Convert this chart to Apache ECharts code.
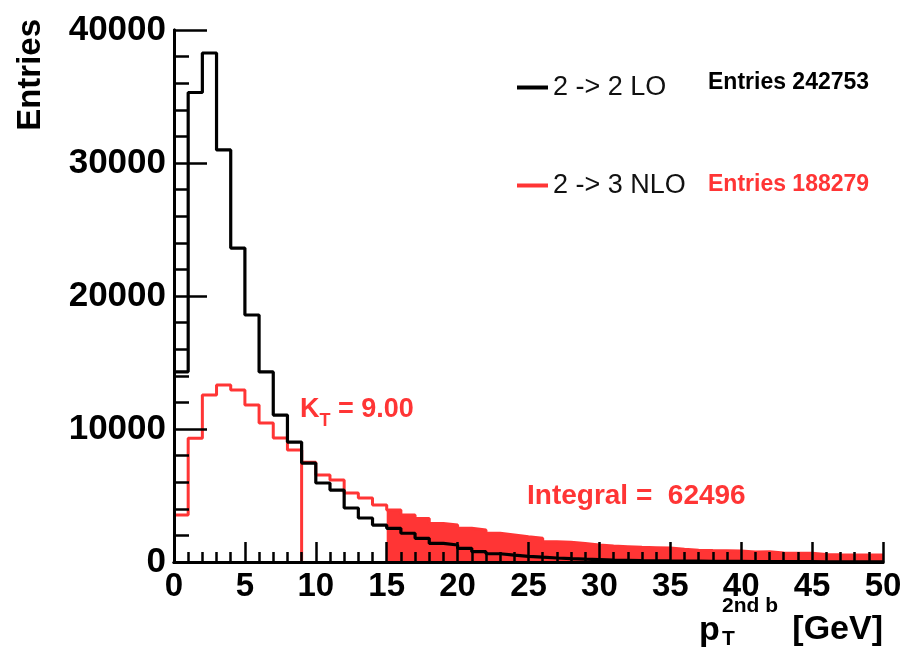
<!DOCTYPE html>
<html>
<head>
<meta charset="utf-8">
<script src="https://cdn.jsdelivr.net/npm/echarts@6/dist/echarts.min.js"></script>
<style>
  html, body { margin: 0; padding: 0; background: #fff; }
  #chart { width: 916px; height: 652px; }
</style>
</head>
<body>
<div id="chart"></div>
<script>
// bin contents, 1 GeV bins from 0 to 50
const loCounts = [
  14300, 35300, 38270, 30980, 23600, 18570, 14290, 11050, 9020, 7440,
  5940, 5410, 4060, 3310, 2780, 2530, 2160, 1780, 1400, 1280,
  1030, 780, 620, 520, 430, 360, 300, 250, 210, 180,
  150, 130, 110, 95, 80, 70, 60, 50, 45, 40,
  35, 30, 28, 25, 22, 20, 18, 16, 14, 12
]
const nloCounts = [
  3530, 9300, 12560, 13310, 12930, 11800, 10450, 9320, 8420, 7500,
  6540, 6170, 5190, 4810, 4290, 3910, 3530, 3280, 2900, 2780,
  2530, 2410, 2160, 2030, 1900, 1780, 1530, 1480, 1400, 1280,
  1200, 1150, 1100, 1080, 1050, 950, 880, 860, 850, 830,
  760, 780, 680, 660, 650, 560, 540, 530, 520, 520
]
const xTicks = [0, 5, 10, 15, 20, 25, 30, 35, 40, 45, 50]
const yTicks = [0, 10000, 20000, 30000, 40000]
const kT = 9
const integralFrom = 15

const RED = "#ff3535"
const FONT = "Liberation Sans"

// histogram -> step points (lower edge, content) + closing point
const toSteps = (counts, start) => {
  const pts = []
  for (let i = start; i < counts.length; i++) pts.push([i, counts[i]])
  pts.push([counts.length, counts[counts.length - 1]])
  return pts
}

const chart = echarts.init(document.getElementById("chart"))

const frameAxis = {
  show: true,
  lineStyle: { color: "#000", width: 3 },
}

const option = {
  animation: false,
  grid: { left: 174, right: 33, top: 30, bottom: 90 },
  legend: {
    data: ["2 -> 2 LO", "2 -> 3 NLO"],
    orient: "vertical",
    left: 512,
    top: 69,
    itemGap: 71,
    itemWidth: 31,
    itemHeight: 4,
    icon: "rect",
    textStyle: { fontFamily: FONT, fontSize: 27, color: "#111" },
  },
  xAxis: [
    {
      type: "value",
      min: xTicks[0],
      max: xTicks[xTicks.length - 1],
      interval: 5,
      z: 10,
      axisLine: frameAxis,
      axisTick: { show: true, inside: true, length: 20, lineStyle: { color: "#000", width: 2.5 } },
      minorTick: { show: true, splitNumber: 5, length: 10, lineStyle: { color: "#000", width: 2.5 } },
      splitLine: { show: false },
      axisLabel: {
        margin: 8,
        fontFamily: FONT,
        fontWeight: "bold",
        fontSize: 33,
        color: "#000",
        formatter: (v) => String(v),
      },
    },
    {
      type: "value",
      position: "top",
      min: 0,
      max: 50,
      z: 10,
      axisLine: frameAxis,
      axisTick: { show: false },
      axisLabel: { show: false },
      splitLine: { show: false },
    },
  ],
  yAxis: [
    {
      type: "value",
      min: yTicks[0],
      max: yTicks[yTicks.length - 1],
      interval: 10000,
      z: 10,
      axisLine: frameAxis,
      axisTick: { show: true, inside: true, length: 33, lineStyle: { color: "#000", width: 2.5 } },
      minorTick: { show: true, splitNumber: 5, length: 15, lineStyle: { color: "#000", width: 2.5 } },
      splitLine: { show: false },
      axisLabel: {
        margin: 8,
        fontFamily: FONT,
        fontWeight: "bold",
        fontSize: 35,
        color: "#000",
        formatter: (v) => String(v),
      },
    },
    {
      type: "value",
      position: "right",
      min: 0,
      max: 40000,
      z: 10,
      axisLine: frameAxis,
      axisTick: { show: false },
      axisLabel: { show: false },
      splitLine: { show: false },
    },
  ],
  series: [
    {
      name: "integral",
      type: "line",
      step: "end",
      symbol: "none",
      silent: true,
      data: toSteps(nloCounts, integralFrom),
      lineStyle: { width: 0 },
      areaStyle: { color: RED, opacity: 1 },
    },
    {
      name: "2 -> 3 NLO",
      type: "line",
      step: "end",
      symbol: "none",
      color: RED,
      data: toSteps(nloCounts, 0),
      lineStyle: { color: RED, width: 3 },
    },
    {
      name: "kT",
      type: "line",
      symbol: "none",
      data: [[kT, 0], [kT, nloCounts[kT - 1]]],
      lineStyle: { color: RED, width: 3 },
    },
    {
      name: "2 -> 2 LO",
      type: "line",
      step: "end",
      symbol: "none",
      color: "#000",
      data: toSteps(loCounts, 0),
      lineStyle: { color: "#000", width: 3.2 },
    },
  ],
  graphic: [
    {
      type: "text",
      x: 31,
      y: 19,
      rotation: Math.PI / 2,
      style: {
        text: "Entries",
        font: `bold 33px "${FONT}"`,
        fill: "#000",
        align: "right",
        verticalAlign: "middle",
      },
    },
    {
      type: "text",
      x: 708,
      y: 83,
      style: {
        text: "Entries 242753",
        font: `bold 23px "${FONT}"`,
        fill: "#000",
        verticalAlign: "middle",
      },
    },
    {
      type: "text",
      x: 708,
      y: 185,
      style: {
        text: "Entries 188279",
        font: `bold 23px "${FONT}"`,
        fill: RED,
        verticalAlign: "middle",
      },
    },
    {
      type: "text",
      x: 300,
      y: 396,
      style: {
        text: "{a|K}{s|T}{a| = 9.00}",
        fill: RED,
        rich: {
          a: { font: `bold 27px "${FONT}"`, fill: RED, verticalAlign: "top", lineHeight: 28 },
          s: { font: `bold 18px "${FONT}"`, fill: RED, verticalAlign: "bottom", padding: [16, 0, 0, 0] },
        },
      },
    },
    {
      type: "text",
      x: 527,
      y: 496,
      style: {
        text: "Integral =  62496",
        font: `bold 28px "${FONT}"`,
        fill: RED,
        verticalAlign: "middle",
      },
    },
    {
      type: "text",
      x: 699,
      y: 631,
      style: { text: "p", font: `bold 34px "${FONT}"`, fill: "#000", verticalAlign: "middle" },
    },
    {
      type: "text",
      x: 722,
      y: 606,
      style: { text: "2nd b", font: `bold 21px "${FONT}"`, fill: "#000", verticalAlign: "middle" },
    },
    {
      type: "text",
      x: 722,
      y: 639,
      style: { text: "T", font: `bold 21px "${FONT}"`, fill: "#000", verticalAlign: "middle" },
    },
    {
      type: "text",
      x: 883,
      y: 630,
      style: { text: "[GeV]", font: `bold 34px "${FONT}"`, fill: "#000", align: "right", verticalAlign: "middle" },
    },
  ],
}

chart.setOption(option)
</script>
</body>
</html>
